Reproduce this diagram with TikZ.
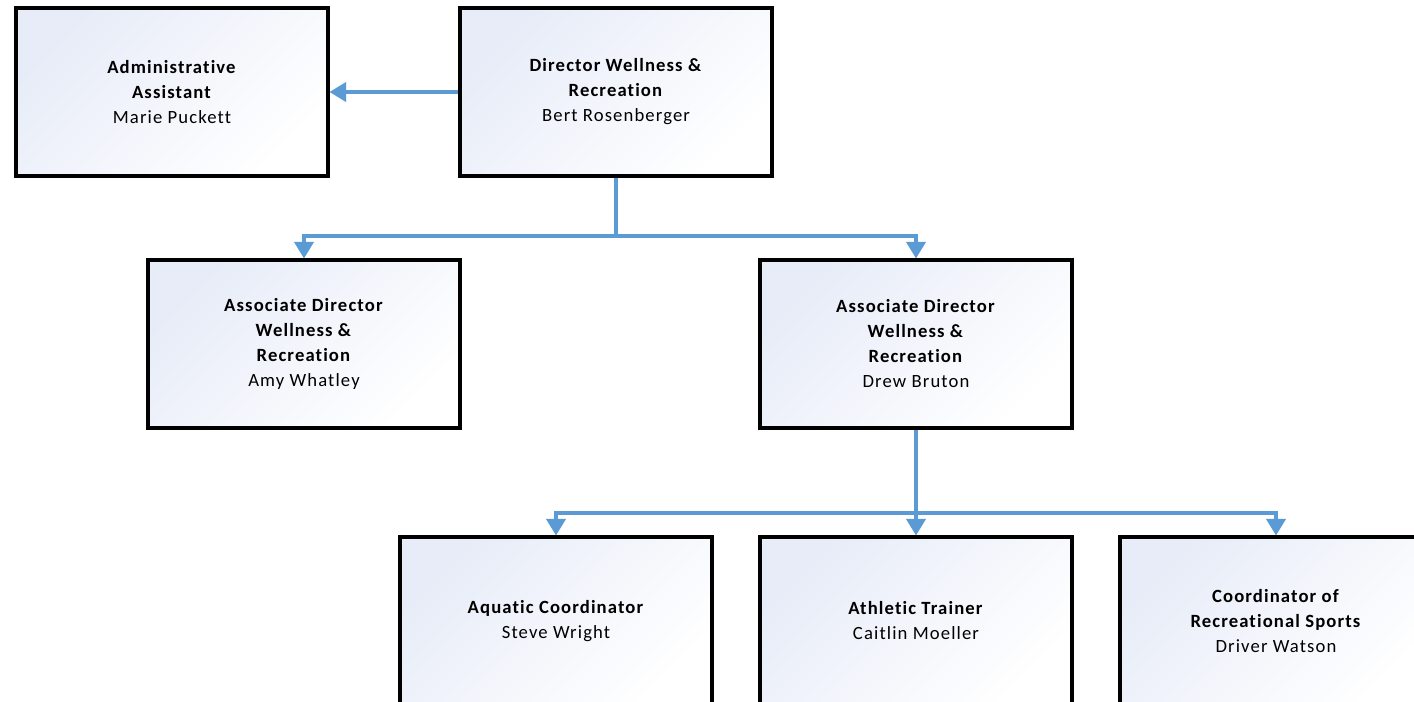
\documentclass[tikz,border=0pt]{standalone}
\usepackage{fontspec}
\setmainfont[LetterSpace=6,Ligatures=NoCommon]{Carlito}
\usetikzlibrary{arrows.meta}
\definecolor{conncol}{RGB}{91,155,213}
\definecolor{gradtop}{RGB}{231,236,248}
\tikzset{
  box/.style={draw=black, line width=2.3pt, minimum width=234pt, minimum height=126pt,
    inner sep=0pt, align=center, font=\fontsize{14pt}{18.75pt}\selectfont,
    top color=gradtop, bottom color=white, shading angle=45},
  conn/.style={draw=conncol, line width=2.5pt},
  arr/.style={conn, -{Triangle[length=12.5pt,width=14.5pt]}}
}
\begin{document}
\begin{tikzpicture}[x=0.75pt,y=-0.75pt]
\useasboundingbox (0,0) rectangle (1414,701);
\clip (0,0) rectangle (1414,701);
\fill[white] (0,0) rectangle (1414,701);
\node[box] (admin) at (172,92) {\textbf{Administrative}\\\textbf{Assistant}\\Marie Puckett};
\node[box] (dir) at (616,92) {\textbf{Director Wellness \&}\\\textbf{Recreation}\\Bert Rosenberger};
\node[box] (assocA) at (304,344) {\textbf{Associate Director}\\\textbf{Wellness \&}\\\textbf{Recreation}\\Amy Whatley};
\node[box] (assocD) at (916,344) {\textbf{Associate Director}\\\textbf{Wellness \&}\\\textbf{Recreation}\\Drew Bruton};
\node[box] (aqua) at (556,621) {\textbf{Aquatic Coordinator}\\Steve Wright};
\node[box] (ath) at (916,621) {\textbf{Athletic Trainer}\\Caitlin Moeller};
\node[box] (coord) at (1276,621) {\textbf{Coordinator of}\\\textbf{Recreational Sports}\\Driver Watson};
\coordinate (j1) at (616,236);
\coordinate (j2) at (916,513);
\draw[arr] (dir.west) -- (admin.east);
\draw[conn] (dir.south) -- (j1);
\draw[arr] (j1) -| (assocA.north);
\draw[arr] (j1) -| (assocD.north);
\draw[conn] (assocD.south) -- (j2);
\draw[arr] (j2) -| (aqua.north);
\draw[arr] (j2) -- (ath.north);
\draw[arr] (j2) -| (coord.north);
\end{tikzpicture}
\end{document}
